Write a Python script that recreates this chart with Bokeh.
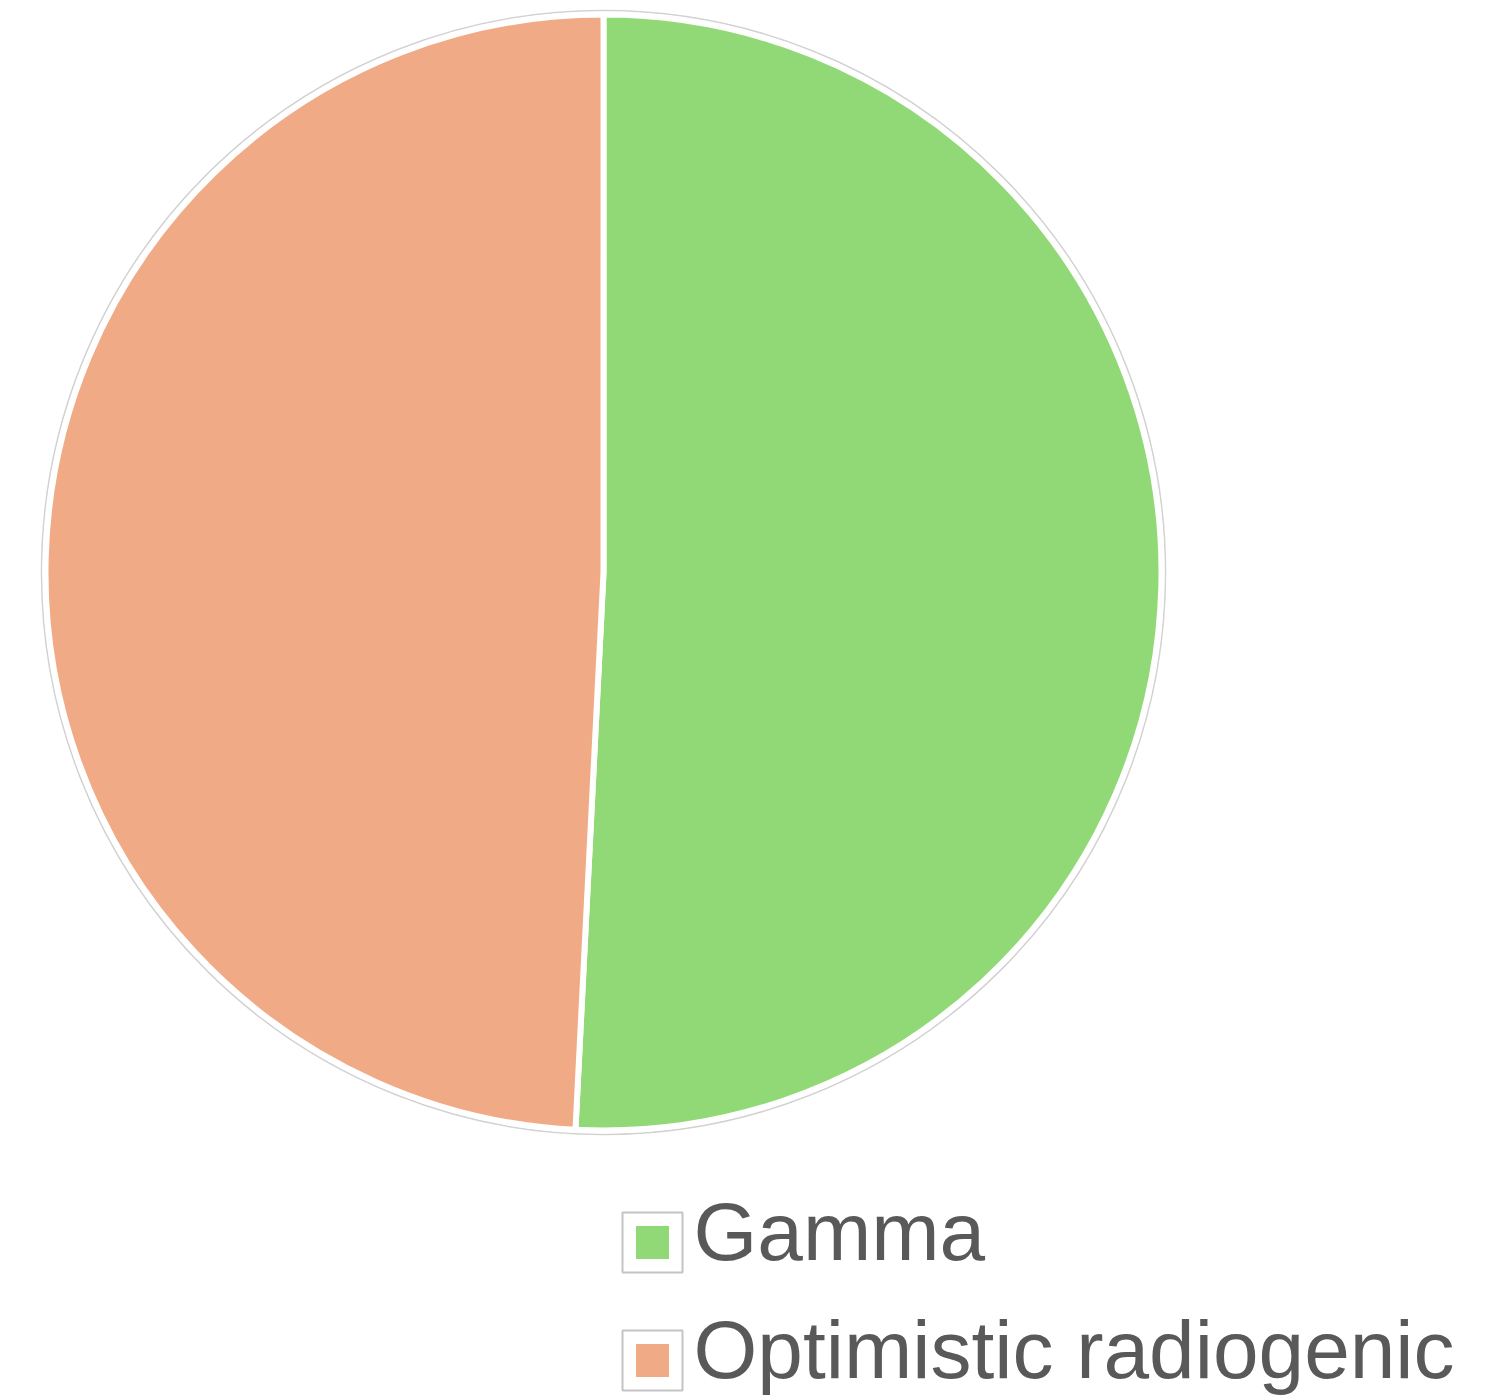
import numpy as np
from bokeh.plotting import figure
from bokeh.models import Range1d, ColumnDataSource
from bokeh.core.properties import value
from bokeh.embed import file_html
from bokeh.resources import INLINE

# Share of each component
categories = ["Gamma", "Optimistic radiogenic"]
shares = [50.8, 49.2]
colors = ["#91D976", "#F0AA86"]

W, H = 1491, 1395

p = figure(width=W, height=H, x_range=Range1d(0, W), y_range=Range1d(0, H),
           output_backend="svg", toolbar_location=None, min_border=0)
p.axis.visible = False
p.grid.visible = False
p.outline_line_color = None
p.background_fill_color = "white"
p.border_fill_color = "white"

# Pie geometry (1 data unit = 1 px)
cx, cy, r = 603, H - 572, 558

frac = np.array(shares, dtype=float) / np.sum(shares)
cum = np.concatenate([[0.0], np.cumsum(frac)])
start = np.pi / 2 - 2 * np.pi * cum[:-1]
end = np.pi / 2 - 2 * np.pi * cum[1:]

src = ColumnDataSource(dict(cat=categories, start=start, end=end, color=colors))

# faint outer ring around the pie
p.circle(x=[cx], y=[cy], radius=r + 4, fill_color=None,
         line_color="#d2d2d2", line_width=1.5)
p.wedge(x=cx, y=cy, radius=r, start_angle="start", end_angle="end",
        direction="clock", fill_color="color", line_color="white",
        line_width=6, source=src)

# Legend: swatch box with inner square, and label
lx, ly0, step = 652, H - 1242, 118
ly = [ly0 - i * step for i in range(len(categories))]
leg = ColumnDataSource(dict(x=[lx] * len(categories), y=ly, cat=categories,
                            color=colors, tx=[lx + 41] * len(categories),
                            ty=[v + 11 for v in ly]))
p.rect(x="x", y="y", width=60, height=60, fill_color="white",
       line_color="#c4c4c4", line_width=2, source=leg)
p.rect(x="x", y="y", width=33, height=33, fill_color="color",
       line_color=None, source=leg)
p.text(x="tx", y="ty", text="cat", text_font=value("Liberation Sans"),
       text_font_size="82px", text_color="#595959",
       text_baseline="alphabetic", text_align="left", source=leg)

open("out.html", "w").write(file_html(p, INLINE))
